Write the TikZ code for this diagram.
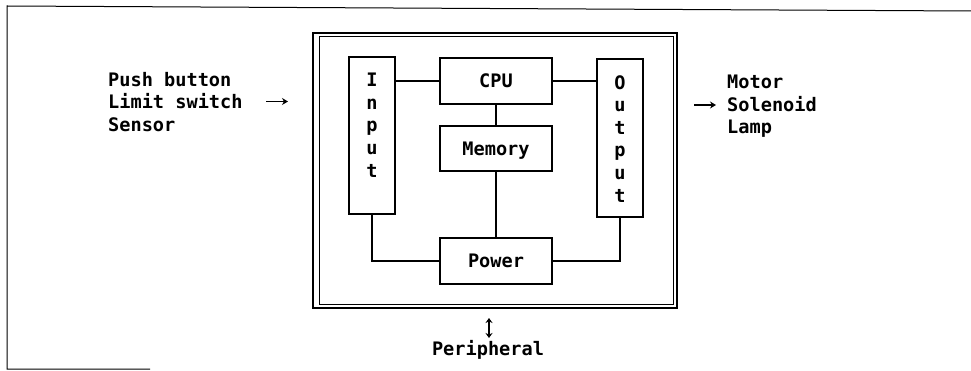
\documentclass[tikz,border=0pt]{standalone}
\usepackage{fontspec}
\setmainfont{DejaVu Sans Mono}
\usetikzlibrary{arrows.meta}
\begin{document}
\begin{tikzpicture}[x=1pt,y=-1pt,
  txt/.style={font=\fontsize{18.6}{22.6}\selectfont\bfseries, inner sep=0pt},
  blk/.style={draw, line width=1.4pt, inner sep=0pt, font=\fontsize{18.6}{22.6}\selectfont\bfseries, text height=13.5pt, text depth=0pt},
  wire/.style={line width=1.3pt},
  arr/.style={line width=1.8pt,-{Stealth[length=6pt,width=7pt]}},
  darr/.style={line width=1.8pt,{Stealth[length=5pt,width=7pt]}-{Stealth[length=5pt,width=7pt]}}]
\useasboundingbox (0,0) rectangle (971,371);
% page frame (as scanned)
\coordinate (fTL) at (7,6);
\coordinate (fTR) at (971,11);
\coordinate (fBL) at (7,369);
\coordinate (fBR) at (150,369);
\draw[line width=1pt] (fTR) -- (fTL) -- (fBL) -- (fBR);
% double frame of the controller
\node[draw, line width=2pt, minimum width=364pt, minimum height=275pt, inner sep=0pt] (sysout) at (495,170.5) {};
\node[draw, line width=1pt, minimum width=354pt, minimum height=267pt, inner sep=0pt] (sysin) at (496,170.5) {};
% blocks
\node[blk, minimum width=46pt, minimum height=157pt] (input) at (372,135.5) {};
\node[blk, minimum width=46pt, minimum height=158pt] (output) at (620,138) {};
\node[blk, minimum width=112pt, minimum height=46pt] (cpu) at (496,81) {CPU};
\node[blk, minimum width=112pt, minimum height=45pt] (mem) at (496,148.5) {Memory};
\node[blk, minimum width=112pt, minimum height=46pt] (power) at (496,261) {Power};
% vertical labels
\node[txt, align=center, anchor=north] (inlbl) at (372,73) {I\\n\\p\\u\\t};
\node[txt, align=center, anchor=north] (outlbl) at (620,75) {O\\u\\t\\p\\u\\t};
% wires
\draw[wire] (cpu.west -| input.east) -- (cpu.west);
\draw[wire] (cpu.east) -- (cpu.east -| output.west);
\draw[wire] (cpu.south) -- (mem.north);
\draw[wire] (mem.south) -- (power.north);
\draw[wire] (input.south) |- (power.west);
\draw[wire] (output.south) |- (power.east);
% side texts
\node[txt, align=left, anchor=north west] (inputs) at (108,72) {Push button\\Limit switch\\Sensor};
\node[txt, align=left, anchor=north west] (outputs) at (727,75) {Motor\\Solenoid\\Lamp};
\coordinate (la) at (266,101.5);
\coordinate (lb) at (288,101.5);
\draw[arr] (la) -- (lb);
\coordinate (ra) at (694,105);
\coordinate (rb) at (716,105);
\draw[arr] (ra) -- (rb);
% peripheral
\coordinate (pa) at (489,318);
\coordinate (pb) at (489,338);
\draw[darr] (pa) -- (pb);
\node[txt, anchor=base] (periph) at (488,355) {Peripheral};
\end{tikzpicture}
\end{document}
